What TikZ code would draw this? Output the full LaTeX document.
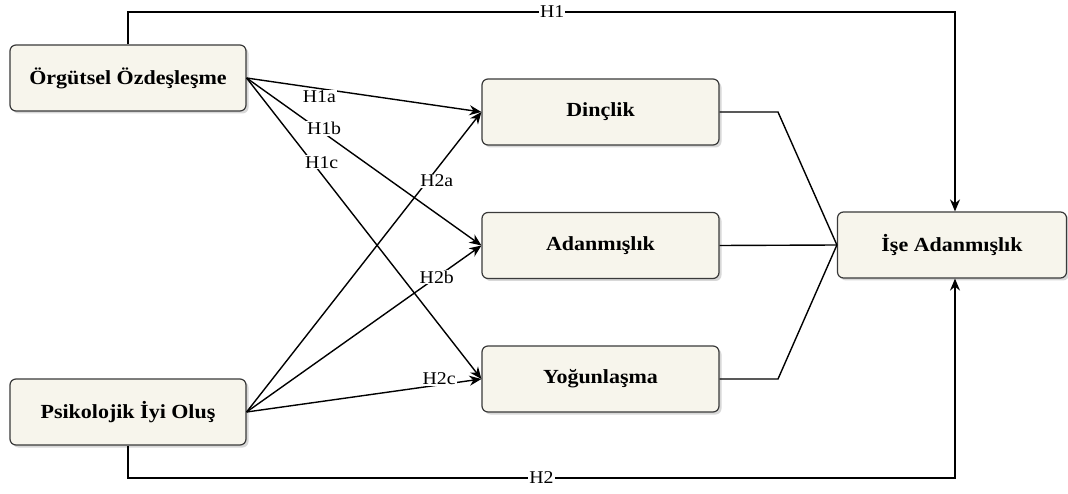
\documentclass[tikz,border=0pt]{standalone}
\usepackage{fontspec}
\setmainfont{Liberation Serif}[FakeStretch=1.1]
\usetikzlibrary{arrows.meta,shadows}
\definecolor{boxfill}{HTML}{F7F5EC}
\definecolor{boxline}{HTML}{3A3A3A}
\begin{document}
\begin{tikzpicture}[x=1pt,y=-1pt,
  box/.style={draw=boxline,line width=1.2pt,fill=boxfill,rounded corners=6pt,
    minimum width=236pt,minimum height=66pt,inner sep=0pt,
    font=\fontsize{20}{23}\selectfont\bfseries,
    drop shadow={shadow xshift=2.5pt,shadow yshift=-2.5pt,fill=black!30}},
  conn/.style={line width=1.4pt,black},
  arr/.style={conn,-{Stealth[length=12pt,width=10pt]}},
  lab/.style={fill=white,inner sep=1pt,font=\fontsize{18}{19}\selectfont}]
\useasboundingbox[fill=white] (0,0) rectangle (1068,494);

\node[box] (org) at (128,78) {Örgütsel Özdeşleşme};
\node[box] (psi) at (128,412) {Psikolojik İyi Oluş};
\node[box,minimum width=237pt] (din) at (600.5,112) {Dinçlik};
\node[box,minimum width=237pt] (ada) at (600.5,245.5) {Adanmışlık};
\node[box,minimum width=237pt] (yog) at (600.5,379) {Yoğunlaşma};
\node[box,minimum width=229pt] (ise) at (952,245) {İşe Adanmışlık};

\coordinate (t1) at (128,12);
\coordinate (t2) at (955,12);
\coordinate (b1) at (128,478);
\coordinate (b2) at (955,478);
\coordinate (m1) at (778,112);
\coordinate (m2) at (778,379);

% H1 / H2 outer paths
\draw[arr] (org.north) -- (t1) -- node[lab,pos=0.513]{H1} (t2) -- (ise.north -| t2);
\draw[arr] (psi.south) -- (b1) -- node[lab,pos=0.50]{H2} (b2) -- (ise.south -| b2);

% from Örgütsel
\draw[arr] (org.east) -- node[lab,pos=0.31,yshift=-8pt]{H1a} (din.west);
\draw[arr] (org.east) -- node[lab,pos=0.33,yshift=5pt]{H1b} (ada.west);
\draw[arr] (org.east) -- node[lab,pos=0.32,yshift=12pt]{H1c} (yog.west);

% from Psikolojik
\draw[arr] (psi.east) -- node[lab,pos=0.81,yshift=-12pt]{H2a} (din.west);
\draw[arr] (psi.east) -- node[lab,pos=0.81]{H2b} (ada.west);
\draw[arr] (psi.east) -- node[lab,pos=0.82,yshift=6pt]{H2c} (yog.west);

% into İşe Adanmışlık
\draw[conn] (din.east) -- (m1) -- (ise.west);
\draw[conn] (ada.east) -- (ise.west);
\draw[conn] (yog.east) -- (m2) -- (ise.west);
\end{tikzpicture}
\end{document}
